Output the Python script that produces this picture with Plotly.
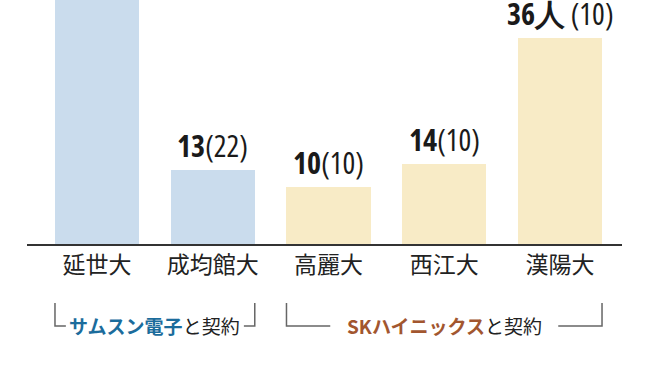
import plotly.graph_objects as go

# ---- data ----
categories = ["延世大", "成均館大", "高麗大", "西江大", "漢陽大"]
students = [50, 13, 10, 14, 36]          # 延世大 bar runs off the top of the chart
prev_year = [40, 22, 10, 10, 10]
unit_suffix = ["", "", "", "", "人"]
groups = ["サムスン電子", "サムスン電子", "SKハイニックス", "SKハイニックス", "SKハイニックス"]
group_names = ["サムスン電子", "SKハイニックス"]
group_suffix = "と契約"

# ---- style ----
bar_colors = {"サムスン電子": "#cadced", "SKハイニックス": "#f8ebc6"}
text_colors = {"サムスン電子": "#1b6c9c", "SKハイニックス": "#a2562f"}
label_half_px = {"サムスン電子": 89, "SKハイニックス": 114}  # half width of bracket gap in px
px_per_cat = 115.75
bar_w = 0.726
y_top = 42.66
cjk = "Noto Sans CJK JP, Noto Sans, sans-serif"
narrow = "Open Sans, DejaVu Sans Condensed, sans-serif"
narrow_css = "font-stretch:80%;font-variation-settings:'wdth' 80"

fig = go.Figure()
fig.add_bar(
    x=list(range(len(categories))),
    y=students,
    width=bar_w,
    marker=dict(color=[bar_colors[g] for g in groups], line=dict(width=0)),
    hoverinfo="skip",
)

annotations = []
for i, (v, p, u) in enumerate(zip(students, prev_year, unit_suffix)):
    sep = " " if u else ""
    annotations.append(dict(
        x=i, y=v, xref="x", yref="y",
        text=f"<span style=\"{narrow_css}\"><b>{v}{u}</b>{sep}({p})</span>",
        showarrow=False, yanchor="bottom", yshift=2,
        font=dict(family=narrow, size=30, color="#1a1a1a"),
    ))

shapes = []
line_style = dict(color="#666666", width=1.5)
y_hi, y_lo = -0.2418, -0.336
for g in group_names:
    idx = [i for i, gg in enumerate(groups) if gg == g]
    x0 = idx[0] - bar_w / 2
    x1 = idx[-1] + bar_w / 2
    xc = (x0 + x1) / 2
    gap = label_half_px[g] / px_per_cat
    shapes.append(dict(type="path", xref="x", yref="paper",
                       path=f"M {x0},{y_hi} L {x0},{y_lo} L {xc-gap},{y_lo}",
                       line=line_style))
    shapes.append(dict(type="path", xref="x", yref="paper",
                       path=f"M {xc+gap},{y_lo} L {x1},{y_lo} L {x1},{y_hi}",
                       line=line_style))
    annotations.append(dict(
        x=xc, y=y_lo + 0.004, xref="x", yref="paper",
        text=f"<b><span style='color:{text_colors[g]}'>{g}</span></b>{group_suffix}",
        showarrow=False, yanchor="middle", xanchor="center",
        font=dict(family=cjk, size=19, color="#222222"),
    ))

fig.update_layout(
    width=650, height=365,
    margin=dict(l=27, r=28, t=0, b=121),
    paper_bgcolor="white", plot_bgcolor="white",
    showlegend=False,
    bargap=0,
    annotations=annotations,
    shapes=shapes,
    xaxis=dict(
        range=[-70 / px_per_cat, 525 / px_per_cat],
        tickmode="array", tickvals=list(range(len(categories))), ticktext=categories,
        showline=True, linecolor="#333333", linewidth=1.5,
        ticks="", showgrid=False, zeroline=False,
        tickfont=dict(family=cjk, size=23, color="#222222"),
        fixedrange=True,
    ),
    yaxis=dict(range=[0, y_top], visible=False, showgrid=False, zeroline=False, fixedrange=True),
)

fig.write_html("out.html")
